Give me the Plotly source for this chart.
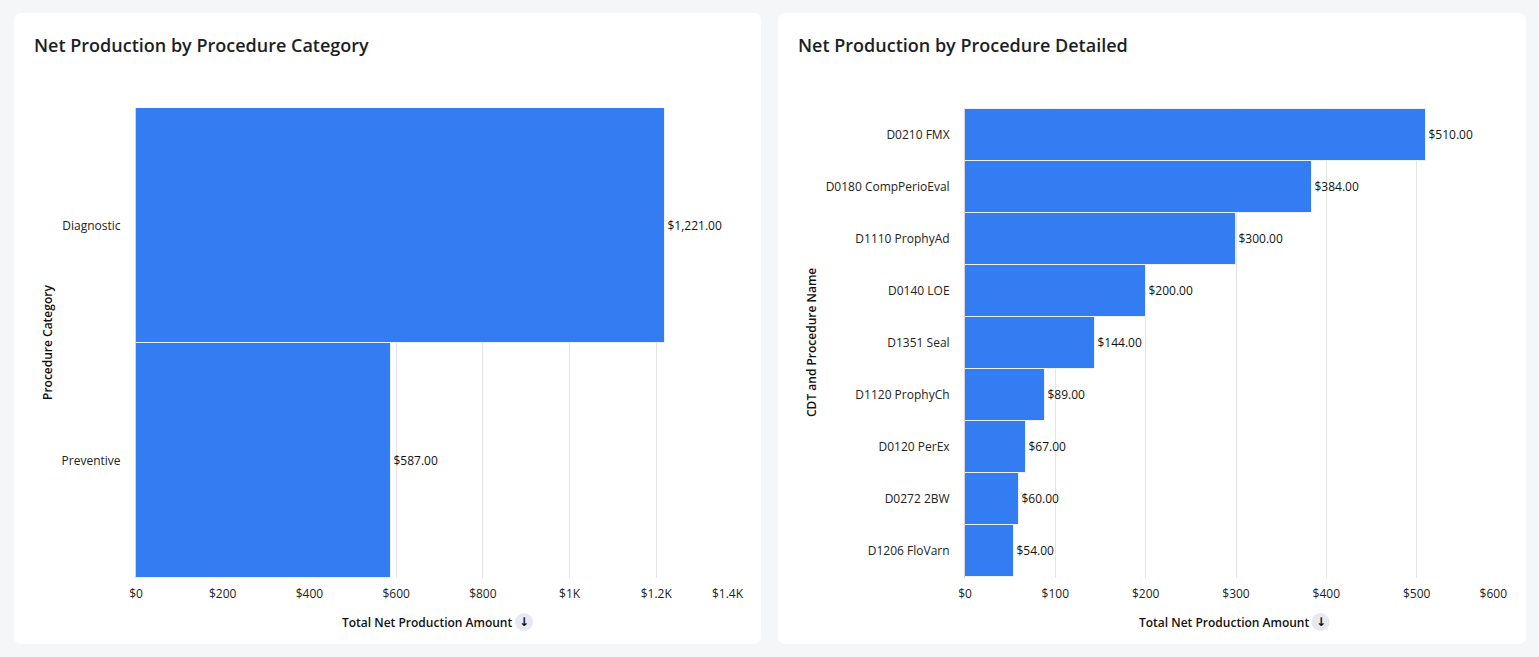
import plotly.graph_objects as go

W, H = 1539, 657

cat_names = ["Diagnostic", "Preventive"]
cat_values = [1221.00, 587.00]
cat_tickvals = [0, 200, 400, 600, 800, 1000, 1200, 1400]
cat_ticktext = ["$0", "$200", "$400", "$600", "$800", "$1K", "$1.2K", "$1.4K"]

det_names = ["D0210 FMX", "D0180 CompPerioEval", "D1110 ProphyAd", "D0140 LOE",
             "D1351 Seal", "D1120 ProphyCh", "D0120 PerEx", "D0272 2BW", "D1206 FloVarn"]
det_values = [510.00, 384.00, 300.00, 200.00, 144.00, 89.00, 67.00, 60.00, 54.00]
det_tickvals = [0, 100, 200, 300, 400, 500, 600]
det_ticktext = ["$0", "$100", "$200", "$300", "$400", "$500", "$600"]

titles = ["Net Production by Procedure Category", "Net Production by Procedure Detailed"]
x_title = "Total Net Production Amount"
y_titles = ["Procedure Category", "CDT and Procedure Name"]

BAR = "#347CF2"
FONT = "Open Sans"
TXT = "#1b1f27"

def px(x):
    return x / W

def py(y):
    return 1 - y / H

fig = go.Figure()

fig.add_trace(go.Bar(
    x=cat_values, y=cat_names, orientation="h", xaxis="x", yaxis="y",
    marker=dict(color=BAR, line=dict(color="rgba(255,255,255,0.8)", width=1)),
    texttemplate="$%{x:,.2f}", textposition="outside", cliponaxis=False,
    textfont=dict(family=FONT, size=12, color="#111"), hoverinfo="x+y",
))
fig.add_trace(go.Bar(
    x=det_values, y=det_names, orientation="h", xaxis="x2", yaxis="y2",
    marker=dict(color=BAR, line=dict(color="rgba(255,255,255,0.8)", width=1)),
    texttemplate="$%{x:,.2f}", textposition="outside", cliponaxis=False,
    textfont=dict(family=FONT, size=12, color="#111"), hoverinfo="x+y",
))
# empty helper traces so the overlay axes (last tick label, right-aligned) get drawn
fig.add_trace(go.Scatter(x=[None] * len(cat_names), y=cat_names, xaxis="x3", yaxis="y",
                         mode="markers", showlegend=False, hoverinfo="skip"))
fig.add_trace(go.Scatter(x=[None] * len(det_names), y=det_names, xaxis="x4", yaxis="y2",
                         mode="markers", showlegend=False, hoverinfo="skip"))

ydom = [py(578), py(108)]
left_dom = [px(136), px(743)]
right_dom = [px(965), px(1507)]

xcommon = dict(showgrid=True, gridcolor="#e4e4e4", gridwidth=1, zeroline=False,
               showline=False, ticks="", automargin=False, ticklabelstandoff=7,
               tickfont=dict(family=FONT, size=12, color="#222"),
               fixedrange=True)
ycommon = dict(type="category", autorange="reversed", showgrid=False, zeroline=False,
               showline=True, linecolor="#d6d6d6", linewidth=1, ticks="",
               ticklabelstandoff=12, automargin=False,
               tickfont=dict(family=FONT, size=12, color="#222"), fixedrange=True)

fig.update_layout(
    width=W, height=H,
    margin=dict(l=0, r=0, t=0, b=0, autoexpand=False),
    paper_bgcolor="#f5f6f8", plot_bgcolor="rgba(0,0,0,0)",
    showlegend=False, bargap=0,
    font=dict(family=FONT, size=12, color=TXT),
    xaxis=dict(domain=left_dom, range=[0, 1400], tickvals=cat_tickvals[:-1],
               ticktext=cat_ticktext[:-1], anchor="y", **xcommon),
    xaxis3=dict(domain=left_dom, range=[0, 1400], tickvals=cat_tickvals[-1:],
                ticktext=cat_ticktext[-1:], anchor="y", overlaying="x",
                side="bottom", ticklabelposition="outside left", **xcommon),
    yaxis=dict(domain=ydom, anchor="x", **ycommon),
    xaxis2=dict(domain=right_dom, range=[0, 600], tickvals=det_tickvals[:-1],
                ticktext=det_ticktext[:-1], anchor="y2", **xcommon),
    xaxis4=dict(domain=right_dom, range=[0, 600], tickvals=det_tickvals[-1:],
                ticktext=det_ticktext[-1:], anchor="y2", overlaying="x2",
                side="bottom", ticklabelposition="outside left", **xcommon),
    yaxis2=dict(domain=ydom, anchor="x2", **ycommon),
)

def rounded_rect(x0, y0, x1, y1, r):
    X0, X1 = px(x0), px(x1)
    Y0, Y1 = py(y1), py(y0)
    rx, ry = r / W, r / H
    return (f"M {X0+rx},{Y0} L {X1-rx},{Y0} Q {X1},{Y0} {X1},{Y0+ry} "
            f"L {X1},{Y1-ry} Q {X1},{Y1} {X1-rx},{Y1} L {X0+rx},{Y1} "
            f"Q {X0},{Y1} {X0},{Y1-ry} L {X0},{Y0+ry} Q {X0},{Y0} {X0+rx},{Y0} Z")

shapes = []
for (a, b) in [(14, 761), (778, 1526)]:
    shapes.append(dict(type="path", xref="paper", yref="paper", layer="below",
                       path=rounded_rect(a, 13, b, 644, 8),
                       fillcolor="#ffffff", line=dict(width=0)))

annotations = []
for tx, t in zip([32, 796], titles):
    annotations.append(dict(x=px(tx), y=py(45), xref="paper", yref="paper",
                            xanchor="left", yanchor="middle", showarrow=False,
                            text=t, font=dict(family=FONT, size=18, color=TXT, weight=600)))

for dom, ytx, yt in [(left_dom, 47, y_titles[0]), (right_dom, 811, y_titles[1])]:
    cx = (dom[0] + dom[1]) / 2 * W
    icon = cx + 84.5
    annotations.append(dict(x=px(icon - 10), y=py(622), xref="paper", yref="paper",
                            xanchor="right", yanchor="middle", showarrow=False,
                            text=x_title, font=dict(family=FONT, size=12, color="#111", weight=600)))
    shapes.append(dict(type="circle", xref="paper", yref="paper",
                       x0=px(icon - 9), x1=px(icon + 9), y0=py(622 + 9), y1=py(622 - 9),
                       fillcolor="#e7e9f0", line=dict(width=0)))
    annotations.append(dict(x=px(icon), y=py(622), xref="paper", yref="paper",
                            xanchor="center", yanchor="middle", showarrow=False,
                            text="<b>↓</b>", font=dict(family="DejaVu Sans", size=12, color="#111")))
    annotations.append(dict(x=px(ytx), y=py(343), xref="paper", yref="paper",
                            xanchor="center", yanchor="middle", showarrow=False, textangle=-90,
                            text=yt, font=dict(family=FONT, size=12, color="#111", weight=600)))

fig.update_layout(shapes=shapes, annotations=annotations)

fig.write_html("out.html", config={"displayModeBar": False})
